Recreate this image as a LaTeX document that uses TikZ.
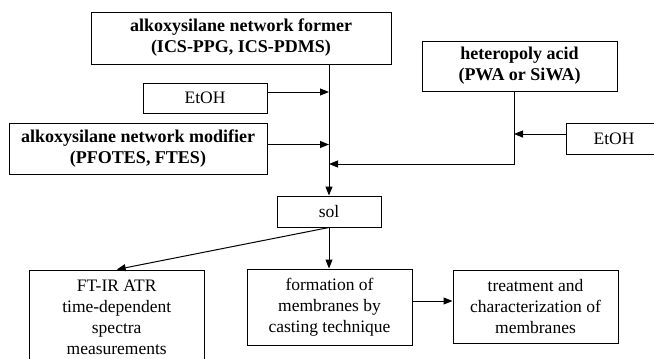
\documentclass[tikz,border=0pt]{standalone}
\usepackage{fontspec}
\setmainfont{Liberation Serif}
\usetikzlibrary{arrows.meta}
\begin{document}
\begin{tikzpicture}[x=1pt,y=-1pt,
 box/.style={draw,line width=1pt,align=center,inner sep=0pt,font=\fontsize{17.5}{21}\selectfont},
 bbox/.style={box,font=\fontsize{18}{21}\selectfont\bfseries},
 arr/.style={line width=1pt,-{Triangle[length=9pt,width=7pt]}}]
\useasboundingbox (0,0) rectangle (654,359);
\clip (0,0) rectangle (654,359);
\node[bbox,minimum width=300pt,minimum height=52pt] (former) at (241,38) {alkoxysilane network former\\(ICS-PPG, ICS-PDMS)};
\node[box,minimum width=124pt,minimum height=30pt] (etoh1) at (205,98) {EtOH};
\node[bbox,minimum width=258pt,minimum height=51pt] (modifier) at (138,148.5) {alkoxysilane network modifier\\(PFOTES, FTES)};
\node[bbox,minimum width=195pt,minimum height=50pt] (hpa) at (519.5,66) {heteropoly acid\\(PWA or SiWA)};
\node[box,minimum width=96pt,minimum height=31pt] (etoh2) at (614,138.7) {EtOH};
\node[box,minimum width=104pt,minimum height=31pt] (sol) at (329,211.5) {sol};
\node[box,minimum width=175pt,minimum height=94pt] (ftir) at (116.7,317) {FT-IR ATR\\time-dependent\\spectra\\measurements};
\node[box,minimum width=165pt,minimum height=76pt] (form) at (329.5,307) {formation of\\membranes by\\casting technique};
\node[box,minimum width=165pt,minimum height=73pt] (treat) at (535.5,306.5) {treatment and\\characterization of\\membranes};
\coordinate (hb) at ([xshift=-5.5pt]hpa.south);
\coordinate (j) at (0,164);
\draw[arr] (former.south -| sol.north) -- (sol.north);
\draw[arr] ([yshift=6pt]etoh1.east) -- ([yshift=6pt]etoh1.east -| sol.north);
\draw[arr] ([yshift=4pt]modifier.east) -- ([yshift=4pt]modifier.east -| sol.north);
\draw[arr] (hb) |- (sol.north |- j);
\draw[arr] ([yshift=4.7pt]etoh2.west) -- ([yshift=4.7pt]etoh2.west -| hb);
\draw[arr] (sol.south) -- (sol.south |- form.north);
\draw[arr] (sol.south) -- (ftir.north);
\draw[arr] ([yshift=6pt]form.east) -- ([yshift=6pt]form.east -| treat.west);
\end{tikzpicture}
\end{document}
